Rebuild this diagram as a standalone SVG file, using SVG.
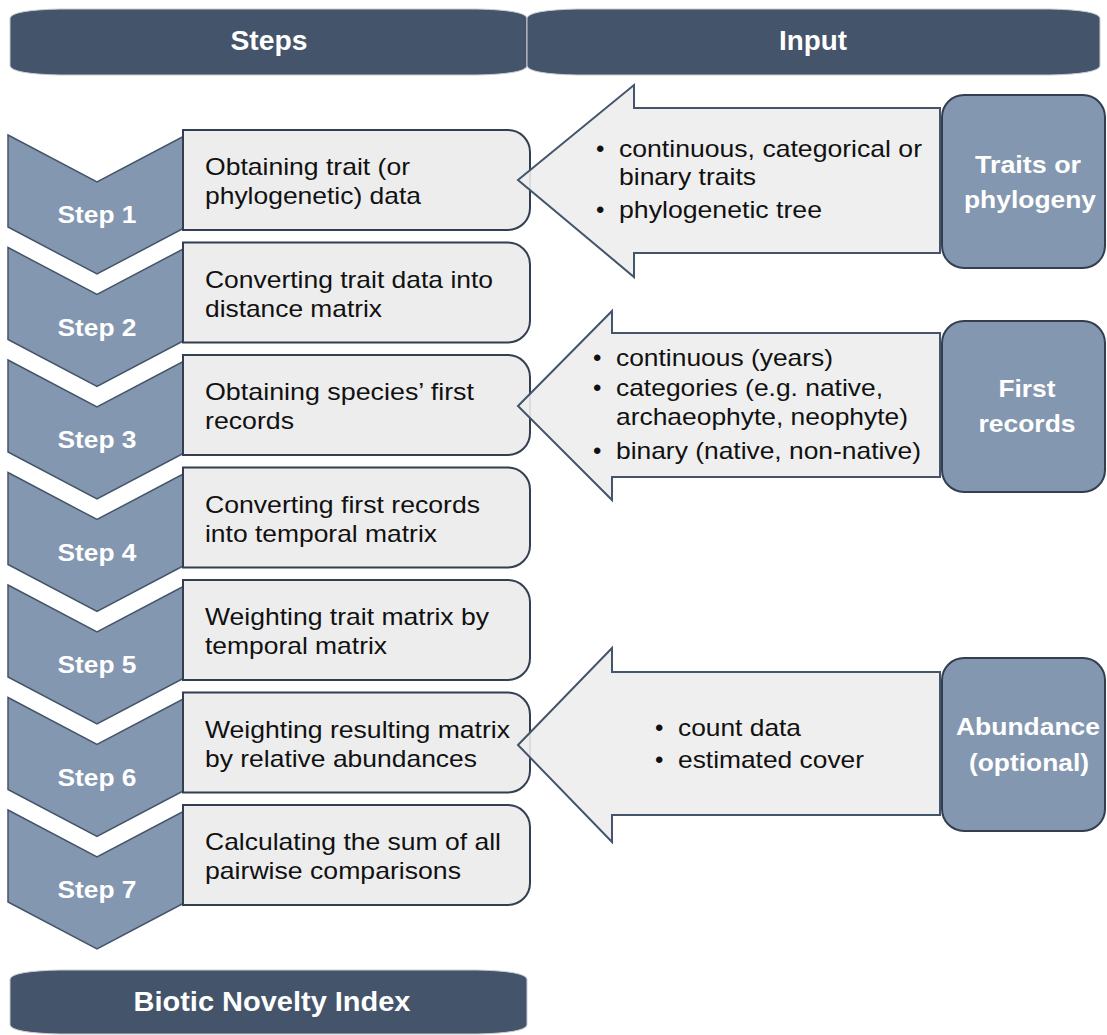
<svg xmlns="http://www.w3.org/2000/svg" width="1107" height="1035" viewBox="0 0 1107 1035">
<style>
text{font-family:"Liberation Sans",Arial,sans-serif}
.hdr{fill:#44546A;stroke:#c9ccd2;stroke-width:1}
.hdrt{fill:#fff;font-weight:bold;font-size:27px;text-anchor:middle}
.chev{fill:#8497B0;stroke:#44546A;stroke-width:1.5}
.stept{fill:#fff;font-weight:bold;font-size:24px;text-anchor:middle}
.box{fill:#EDEDED;stroke:#333F50;stroke-width:2}
.bt{fill:#111;font-size:24px}
.arr{fill:#EDEDED;fill-opacity:0.9;stroke:#44546A;stroke-width:2}
.src{fill:#8497B0;stroke:#333F50;stroke-width:2}
.srct{fill:#fff;font-weight:bold;font-size:24px;text-anchor:middle}
</style>

<g id="header-steps">
<path class="hdr" d="M10,18 Q12,10 60,9 L477,9 Q525,10 527,18 L527,66 Q525,74 477,75 L60,75 Q12,74 10,66 Z"/>
<text class="hdrt" x="269" y="50" textLength="77" lengthAdjust="spacingAndGlyphs">Steps</text>
</g>
<g id="header-input">
<path class="hdr" d="M527,18 Q529,10 577,9 L1050,9 Q1098,10 1100,18 L1100,66 Q1098,74 1050,75 L577,75 Q529,74 527,66 Z"/>
<text class="hdrt" x="813" y="50" textLength="68" lengthAdjust="spacingAndGlyphs">Input</text>
</g>

<g id="step1">
<path class="chev" d="M8,135 L97,182 L186,135 L186,227 L97,274 L8,227 Z"/>
<path class="box" d="M183,130 H508 A22,22 0 0 1 530,152 V208 A22,22 0 0 1 508,230 H183 Z"/>
<text class="stept" x="97" y="223" textLength="79" lengthAdjust="spacingAndGlyphs">Step 1</text>
<text class="bt" x="205" y="175" textLength="205" lengthAdjust="spacingAndGlyphs">Obtaining trait (or</text>
<text class="bt" x="205" y="204" textLength="216" lengthAdjust="spacingAndGlyphs">phylogenetic) data</text>
</g>
<g id="step2">
<path class="chev" d="M8,247.5 L97,294.5 L186,247.5 L186,339.5 L97,386.5 L8,339.5 Z"/>
<path class="box" d="M183,242.5 H508 A22,22 0 0 1 530,264.5 V320.5 A22,22 0 0 1 508,342.5 H183 Z"/>
<text class="stept" x="97" y="335.5" textLength="79" lengthAdjust="spacingAndGlyphs">Step 2</text>
<text class="bt" x="205" y="287.5" textLength="288" lengthAdjust="spacingAndGlyphs">Converting trait data into</text>
<text class="bt" x="205" y="316.5" textLength="177" lengthAdjust="spacingAndGlyphs">distance matrix</text>
</g>
<g id="step3">
<path class="chev" d="M8,360 L97,407 L186,360 L186,452 L97,499 L8,452 Z"/>
<path class="box" d="M183,355 H508 A22,22 0 0 1 530,377 V433 A22,22 0 0 1 508,455 H183 Z"/>
<text class="stept" x="97" y="448" textLength="79" lengthAdjust="spacingAndGlyphs">Step 3</text>
<text class="bt" x="205" y="400" textLength="269" lengthAdjust="spacingAndGlyphs">Obtaining species’ first</text>
<text class="bt" x="205" y="429" textLength="89" lengthAdjust="spacingAndGlyphs">records</text>
</g>
<g id="step4">
<path class="chev" d="M8,472.5 L97,519.5 L186,472.5 L186,564.5 L97,611.5 L8,564.5 Z"/>
<path class="box" d="M183,467.5 H508 A22,22 0 0 1 530,489.5 V545.5 A22,22 0 0 1 508,567.5 H183 Z"/>
<text class="stept" x="97" y="560.5" textLength="79" lengthAdjust="spacingAndGlyphs">Step 4</text>
<text class="bt" x="205" y="512.5" textLength="275" lengthAdjust="spacingAndGlyphs">Converting first records</text>
<text class="bt" x="205" y="541.5" textLength="232" lengthAdjust="spacingAndGlyphs">into temporal matrix</text>
</g>
<g id="step5">
<path class="chev" d="M8,585 L97,632 L186,585 L186,677 L97,724 L8,677 Z"/>
<path class="box" d="M183,580 H508 A22,22 0 0 1 530,602 V658 A22,22 0 0 1 508,680 H183 Z"/>
<text class="stept" x="97" y="673" textLength="79" lengthAdjust="spacingAndGlyphs">Step 5</text>
<text class="bt" x="205" y="625" textLength="284" lengthAdjust="spacingAndGlyphs">Weighting trait matrix by</text>
<text class="bt" x="205" y="654" textLength="182" lengthAdjust="spacingAndGlyphs">temporal matrix</text>
</g>
<g id="step6">
<path class="chev" d="M8,697.5 L97,744.5 L186,697.5 L186,789.5 L97,836.5 L8,789.5 Z"/>
<path class="box" d="M183,692.5 H508 A22,22 0 0 1 530,714.5 V770.5 A22,22 0 0 1 508,792.5 H183 Z"/>
<text class="stept" x="97" y="785.5" textLength="79" lengthAdjust="spacingAndGlyphs">Step 6</text>
<text class="bt" x="205" y="737.5" textLength="305" lengthAdjust="spacingAndGlyphs">Weighting resulting matrix</text>
<text class="bt" x="205" y="766.5" textLength="272" lengthAdjust="spacingAndGlyphs">by relative abundances</text>
</g>
<g id="step7">
<path class="chev" d="M8,810 L97,857 L186,810 L186,902 L97,949 L8,902 Z"/>
<path class="box" d="M183,805 H508 A22,22 0 0 1 530,827 V883 A22,22 0 0 1 508,905 H183 Z"/>
<text class="stept" x="97" y="898" textLength="79" lengthAdjust="spacingAndGlyphs">Step 7</text>
<text class="bt" x="205" y="850" textLength="296" lengthAdjust="spacingAndGlyphs">Calculating the sum of all</text>
<text class="bt" x="205" y="879" textLength="256" lengthAdjust="spacingAndGlyphs">pairwise comparisons</text>
</g>

<g id="result">
<path class="hdr" d="M10,979 Q12,971 60,970 L477,970 Q525,971 527,979 L527,1025 Q525,1033 477,1034 L60,1034 Q12,1033 10,1025 Z"/>
<text class="hdrt" x="272" y="1011" font-size="26" textLength="277" lengthAdjust="spacingAndGlyphs">Biotic Novelty Index</text>
</g>

<g id="connectors">
<polygon class="arr" points="518,180 634,85 634,108 940,108 940,253 634,253 634,277"/>
<polygon class="arr" points="518,406 612,311 612,333 940,333 940,477 612,477 612,500"/>
<polygon class="arr" points="518,745 612,648 612,672 940,672 940,815 612,815 612,842"/>
</g>

<g id="input-traits">
<rect class="src" x="942" y="95" width="163" height="173" rx="22"/>
<text class="srct" x="1028" y="173" textLength="106" lengthAdjust="spacingAndGlyphs">Traits or</text>
<text class="srct" x="1030" y="208" textLength="132" lengthAdjust="spacingAndGlyphs">phylogeny</text>
<g class="bt">
<text x="596" y="157">•</text>
<text x="619" y="157" textLength="303" lengthAdjust="spacingAndGlyphs">continuous, categorical or</text>
<text x="619" y="185" textLength="137" lengthAdjust="spacingAndGlyphs">binary traits</text>
<text x="596" y="218">•</text>
<text x="619" y="218" textLength="203" lengthAdjust="spacingAndGlyphs">phylogenetic  tree</text>
</g>
</g>
<g id="input-first-records">
<rect class="src" x="942" y="321" width="163" height="171" rx="22"/>
<text class="srct" x="1027" y="397" textLength="57" lengthAdjust="spacingAndGlyphs">First</text>
<text class="srct" x="1027" y="432" textLength="97" lengthAdjust="spacingAndGlyphs">records</text>
<g class="bt">
<text x="593" y="366">•</text>
<text x="616" y="366" textLength="217" lengthAdjust="spacingAndGlyphs">continuous (years)</text>
<text x="593" y="396">•</text>
<text x="616" y="396" textLength="267" lengthAdjust="spacingAndGlyphs">categories (e.g. native,</text>
<text x="616" y="425" textLength="292" lengthAdjust="spacingAndGlyphs">archaeophyte, neophyte)</text>
<text x="593" y="459">•</text>
<text x="616" y="459" textLength="305" lengthAdjust="spacingAndGlyphs">binary (native, non-native)</text>
</g>
</g>
<g id="input-abundance">
<rect class="src" x="942" y="658" width="163" height="173" rx="22"/>
<text class="srct" x="1028" y="735" textLength="144" lengthAdjust="spacingAndGlyphs">Abundance</text>
<text class="srct" x="1029" y="771" textLength="120" lengthAdjust="spacingAndGlyphs">(optional)</text>
<g class="bt">
<text x="655" y="736">•</text>
<text x="678" y="736" textLength="123" lengthAdjust="spacingAndGlyphs">count data</text>
<text x="655" y="768">•</text>
<text x="678" y="768" textLength="186" lengthAdjust="spacingAndGlyphs">estimated cover</text>
</g>
</g>
</svg>
